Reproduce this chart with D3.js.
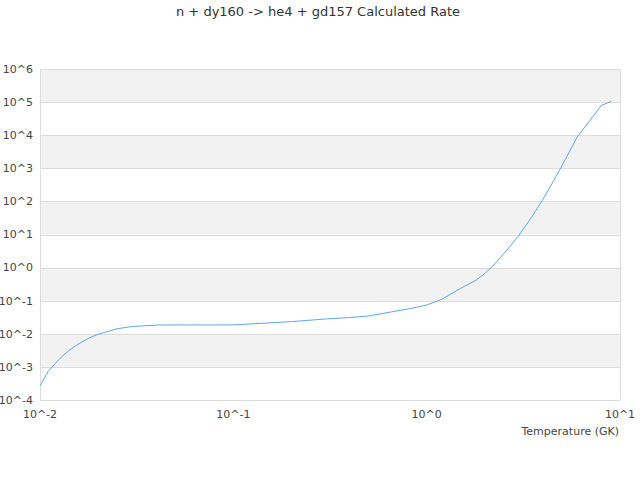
<!DOCTYPE html>
<html>
<head>
<meta charset="utf-8">
<script src="https://cdn.jsdelivr.net/npm/d3@7"></script>
<style>
body { margin: 0; background: #fff; }
svg { display: block; font-family: "DejaVu Sans", sans-serif; }
</style>
</head>
<body>
<svg id="chart" width="640" height="480"></svg>
<script>
const title = "n + dy160 -> he4 + gd157 Calculated Rate";
const xLabel = "Temperature (GK)";
const temperatures = [0.01, 0.011, 0.012, 0.013, 0.014, 0.015, 0.016, 0.018, 0.02, 0.025, 0.03, 0.04, 0.05, 0.06, 0.07, 0.08, 0.09, 0.1, 0.15, 0.2, 0.3, 0.4, 0.5, 0.6, 0.7, 0.8, 0.9, 1, 1.2, 1.5, 1.8, 2, 2.2, 2.5, 2.8, 3, 3.5, 4, 4.5, 5, 6, 7, 8, 9];
const rates = [2.65e-4, 7.2e-4, 1.27e-3, 2.06e-3, 3.0e-3, 4.07e-3, 5.1e-3, 7.57e-3, 9.7e-3, 1.42e-2, 1.66e-2, 1.84e-2, 1.85e-2, 1.85e-2, 1.85e-2, 1.85e-2, 1.85e-2, 1.86e-2, 2.12e-2, 2.34e-2, 2.8e-2, 3.1e-2, 3.45e-2, 4.16e-2, 4.89e-2, 5.6e-2, 6.45e-2, 7.4e-2, 0.111, 0.237, 0.416, 0.668, 1.12, 2.58, 5.69, 9.46, 34, 118, 385, 1170, 8700, 2.8e4, 7.9e4, 1.04e5];
const xTickExps = [-2, -1, 0, 1];
const yTickExps = [-4, -3, -2, -1, 0, 1, 2, 3, 4, 5, 6];

(function () {
const svg = d3.select("#chart");
const pLeft = 40, pRight = 620, pTop = 69, pBottom = 400;

const x = d3.scaleLog().domain([1e-2, 1e1]).range([pLeft, pRight]);
const y = d3.scaleLog().domain([1e-4, 1e6]).range([pBottom, pTop]);

// bands
const bands = yTickExps.slice(0, -1).map((e, i) => ({lo: Math.pow(10, e), hi: Math.pow(10, e + 1), i}));
svg.append("g").selectAll("rect").data(bands.filter(b => (9 - b.i) % 2 === 0)).join("rect")
  .attr("x", pLeft).attr("width", pRight - pLeft)
  .attr("y", d => y(d.hi)).attr("height", d => y(d.lo) - y(d.hi))
  .attr("fill", "#f2f2f2");

// grid lines
svg.append("g").selectAll("line").data(yTickExps).join("line")
  .attr("x1", pLeft).attr("x2", pRight)
  .attr("y1", d => Math.round(y(Math.pow(10, d))) + 0.5)
  .attr("y2", d => Math.round(y(Math.pow(10, d))) + 0.5)
  .attr("stroke", "#dcdcdc").attr("stroke-width", 1);

// left and right borders
svg.append("line").attr("x1", pLeft + 0.5).attr("x2", pLeft + 0.5).attr("y1", pTop).attr("y2", pBottom)
  .attr("stroke", "#dcdcdc");
svg.append("line").attr("x1", pRight + 0.5).attr("x2", pRight + 0.5).attr("y1", pTop).attr("y2", pBottom)
  .attr("stroke", "#dcdcdc");

// y tick labels
svg.append("g").selectAll("text").data(yTickExps).join("text")
  .attr("x", 33).attr("y", d => y(Math.pow(10, d)))
  .attr("dy", "0.35em")
  .attr("text-anchor", "end")
  .attr("font-size", 11).attr("fill", "#444")
  .text(d => "10^" + d);

// x tick labels
svg.append("g").selectAll("text").data(xTickExps).join("text")
  .attr("x", d => x(Math.pow(10, d))).attr("y", 418)
  .attr("text-anchor", "middle")
  .attr("font-size", 11).attr("fill", "#444")
  .text(d => "10^" + d);

// x axis label
svg.append("text").attr("x", 619).attr("y", 435)
  .attr("text-anchor", "end").attr("font-size", 11).attr("fill", "#444")
  .text(xLabel);

// title
svg.append("text").attr("x", 318).attr("y", 16)
  .attr("text-anchor", "middle").attr("font-size", 13).attr("fill", "#333")
  .text(title);

// line
const data = temperatures.map((t, i) => ({t, r: rates[i]}));
svg.append("path").datum(data)
  .attr("fill", "none").attr("stroke", "#5ea6ee").attr("stroke-width", 1)
  .attr("d", d3.line().x(d => x(d.t)).y(d => y(d.r)));
})();
</script>
</body>
</html>
